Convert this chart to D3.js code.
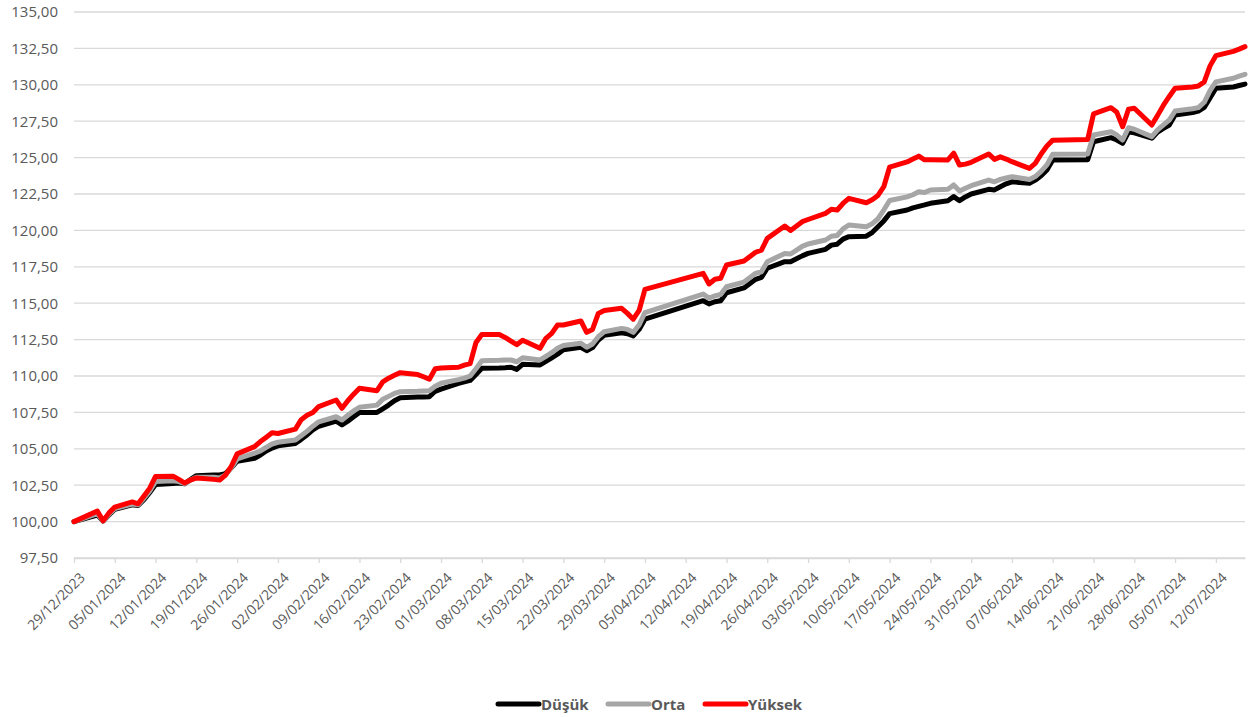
<!DOCTYPE html>
<html><head><meta charset="utf-8">
<script src="https://cdn.jsdelivr.net/npm/d3@7"></script>
<style>
body{margin:0;background:#fff}
svg{display:block}
text{font-family:"Open Sans",sans-serif}
</style>
</head><body>
<svg id="chart" width="1259" height="717"></svg>
<script>
const dates = [
"2023-12-29","2024-01-02","2024-01-03","2024-01-04","2024-01-05",
"2024-01-08","2024-01-09","2024-01-10","2024-01-11","2024-01-12",
"2024-01-15","2024-01-16","2024-01-17","2024-01-18","2024-01-19",
"2024-01-22","2024-01-23","2024-01-24","2024-01-25","2024-01-26",
"2024-01-29","2024-01-30","2024-01-31","2024-02-01","2024-02-02",
"2024-02-05","2024-02-06","2024-02-07","2024-02-08","2024-02-09",
"2024-02-12","2024-02-13","2024-02-14","2024-02-15","2024-02-16",
"2024-02-19","2024-02-20","2024-02-21","2024-02-22","2024-02-23",
"2024-02-26","2024-02-27","2024-02-28","2024-02-29","2024-03-01",
"2024-03-04","2024-03-05","2024-03-06","2024-03-07","2024-03-08",
"2024-03-11","2024-03-12","2024-03-13","2024-03-14","2024-03-15",
"2024-03-18","2024-03-19","2024-03-20","2024-03-21","2024-03-22",
"2024-03-25","2024-03-26","2024-03-27","2024-03-28","2024-03-29",
"2024-04-01","2024-04-02","2024-04-03","2024-04-04","2024-04-05",
"2024-04-15","2024-04-16","2024-04-17","2024-04-18","2024-04-19",
"2024-04-22","2024-04-24","2024-04-25","2024-04-26",
"2024-04-29","2024-04-30","2024-05-02","2024-05-03",
"2024-05-06","2024-05-07","2024-05-08","2024-05-09","2024-05-10",
"2024-05-13","2024-05-14","2024-05-15","2024-05-16","2024-05-17",
"2024-05-20","2024-05-21","2024-05-22","2024-05-23","2024-05-24",
"2024-05-27","2024-05-28","2024-05-29","2024-05-30","2024-05-31",
"2024-06-03","2024-06-04","2024-06-05","2024-06-06","2024-06-07",
"2024-06-10","2024-06-11","2024-06-12","2024-06-13","2024-06-14",
"2024-06-20","2024-06-21",
"2024-06-24","2024-06-25","2024-06-26","2024-06-27","2024-06-28",
"2024-07-01","2024-07-02","2024-07-03","2024-07-04","2024-07-05",
"2024-07-08","2024-07-09","2024-07-10","2024-07-11","2024-07-12",
"2024-07-15","2024-07-16","2024-07-17"
];
const yuksek = [
100.00,100.72,100.05,100.60,101.00,
101.35,101.22,101.75,102.30,103.10,
103.12,102.90,102.65,102.85,103.00,
102.90,102.85,103.20,103.80,104.65,
105.15,105.50,105.80,106.10,106.05,
106.35,107.00,107.30,107.50,107.90,
108.35,107.78,108.30,108.75,109.16,
108.99,109.60,109.85,110.05,110.23,
110.10,109.95,109.78,110.50,110.55,
110.60,110.75,110.85,112.30,112.85,
112.85,112.65,112.40,112.15,112.45,
111.90,112.59,112.93,113.50,113.50,
113.78,113.00,113.20,114.30,114.50,
114.65,114.30,113.90,114.50,115.95,
117.05,116.32,116.64,116.71,117.62,
117.90,118.50,118.65,119.45,
120.30,120.00,120.60,120.75,
121.17,121.45,121.40,121.85,122.20,
121.90,122.10,122.40,123.00,124.35,
124.70,124.90,125.10,124.85,124.85,
124.84,125.30,124.49,124.55,124.68,
125.25,124.88,125.05,124.90,124.72,
124.26,124.60,125.25,125.80,126.20,
126.25,128.00,
128.43,128.11,127.12,128.32,128.39,
127.24,127.90,128.60,129.20,129.76,
129.85,129.92,130.20,131.30,132.00,
132.30,132.45,132.62
];
const orta = [
100.00,100.55,100.05,100.50,100.90,
101.20,101.15,101.60,102.10,102.75,
102.80,102.75,102.60,102.85,103.05,
103.05,103.00,103.20,103.70,104.30,
104.70,104.85,105.10,105.33,105.45,
105.60,105.90,106.20,106.55,106.85,
107.20,106.98,107.30,107.60,107.85,
108.00,108.40,108.60,108.80,108.92,
108.95,108.97,108.99,109.30,109.50,
109.75,109.85,110.00,110.50,111.05,
111.08,111.10,111.10,110.98,111.25,
111.10,111.35,111.60,111.90,112.10,
112.25,111.97,112.20,112.70,113.04,
113.27,113.20,113.00,113.50,114.35,
115.63,115.34,115.50,115.60,116.13,
116.45,117.05,117.16,117.85,
118.42,118.38,118.90,119.07,
119.34,119.60,119.65,120.10,120.37,
120.25,120.45,120.80,121.40,122.05,
122.30,122.45,122.66,122.60,122.78,
122.82,123.12,122.71,122.90,123.07,
123.46,123.34,123.50,123.60,123.69,
123.50,123.70,124.05,124.50,125.23,
125.25,126.55,
126.78,126.55,126.21,127.05,126.95,
126.44,126.90,127.25,127.58,128.20,
128.35,128.43,128.80,129.60,130.20,
130.45,130.60,130.72
];
const dusuk = [
100.00,100.45,100.05,100.45,100.85,
101.15,101.10,101.50,102.00,102.55,
102.62,102.65,102.60,102.90,103.15,
103.20,103.20,103.30,103.70,104.15,
104.35,104.57,104.85,105.05,105.20,
105.37,105.65,105.95,106.30,106.55,
106.90,106.64,106.90,107.20,107.50,
107.50,107.75,108.00,108.30,108.50,
108.55,108.55,108.58,108.95,109.10,
109.50,109.60,109.70,110.10,110.53,
110.55,110.57,110.60,110.45,110.80,
110.76,111.00,111.25,111.50,111.80,
111.97,111.74,111.95,112.47,112.80,
112.97,112.90,112.75,113.20,113.90,
115.17,114.95,115.10,115.17,115.72,
116.05,116.64,116.78,117.40,
117.85,117.85,118.25,118.42,
118.70,118.99,119.05,119.40,119.57,
119.60,119.85,120.25,120.65,121.15,
121.40,121.55,121.65,121.75,121.86,
122.04,122.32,122.04,122.30,122.50,
122.82,122.78,123.00,123.20,123.34,
123.23,123.45,123.75,124.15,124.84,
124.86,126.09,
126.37,126.21,125.98,126.75,126.70,
126.33,126.75,127.00,127.24,127.93,
128.10,128.20,128.45,129.10,129.76,
129.85,129.95,130.05
];
const seriesNames = ["Düşük", "Orta", "Yüksek"];
const seriesColors = ["#000000", "#A6A6A6", "#FF0000"];
const yTicks = [97.5,100,102.5,105,107.5,110,112.5,115,117.5,120,122.5,125,127.5,130,132.5,135];
const xTickLabels = ["29/12/2023","05/01/2024","12/01/2024","19/01/2024","26/01/2024",
"02/02/2024","09/02/2024","16/02/2024","23/02/2024","01/03/2024","08/03/2024",
"15/03/2024","22/03/2024","29/03/2024","05/04/2024","12/04/2024","19/04/2024",
"26/04/2024","03/05/2024","10/05/2024","17/05/2024","24/05/2024","31/05/2024",
"07/06/2024","14/06/2024","21/06/2024","28/06/2024","05/07/2024","12/07/2024"];

const parseISO = d3.utcParse("%Y-%m-%d");
const parseTick = d3.utcParse("%d/%m/%Y");
const dateObjs = dates.map(parseISO);
const allSeries = [dusuk, orta, yuksek];

const L = 74, R = 1245, T = 12, B = 558;
const x = d3.scaleUtc().domain([dateObjs[0], dateObjs[dateObjs.length-1]]).range([L, R]);
const y = d3.scaleLinear().domain([97.5, 135]).range([B, T]);

const locale = d3.formatLocale({decimal: ",", thousands: ".", grouping: [3], currency: ["", ""]});
const fmt = locale.format(".2f");

const svg = d3.select("#chart");
const gridColor = "#D9D9D9";
const textColor = "#595959";

svg.append("g").selectAll("line").data(yTicks).join("line")
  .attr("x1", L).attr("x2", R)
  .attr("y1", d => y(d)).attr("y2", d => y(d))
  .attr("stroke", gridColor).attr("stroke-width", 1.3);

const yAxis = d3.axisLeft(y).tickValues(yTicks).tickFormat(fmt).tickSize(0).tickPadding(16);
const gy = svg.append("g").attr("transform", `translate(${L},0)`).call(yAxis);
gy.select(".domain").remove();
gy.selectAll("text").attr("fill", textColor).style("font-size", "15px").style("font-family", '"Open Sans",sans-serif');

const xTicks = xTickLabels.map(parseTick);
const xAxis = d3.axisBottom(x).tickValues(xTicks).tickFormat((d,i) => xTickLabels[i]).tickSize(5).tickSizeOuter(0);
const gx = svg.append("g").attr("transform", `translate(0,${B})`).call(xAxis);
gx.select(".domain").attr("stroke", gridColor).attr("stroke-width", 1.3);
gx.selectAll(".tick line").attr("stroke", gridColor).attr("stroke-width", 1.3);
gx.selectAll(".tick text")
  .attr("fill", textColor)
  .style("font-size", "14px").style("font-family", '"Open Sans",sans-serif')
  .attr("text-anchor", "end")
  .attr("dy", "0.35em")
  .attr("y", 0)
  .attr("transform", "translate(8,17) rotate(-45)");

const line = d3.line().x((d,i) => x(dateObjs[i])).y(d => y(d));
allSeries.forEach((s, k) => {
  svg.append("path").datum(s)
    .attr("d", line)
    .attr("fill", "none")
    .attr("stroke", seriesColors[k])
    .attr("stroke-width", 5)
    .attr("stroke-linejoin", "round")
    .attr("stroke-linecap", "round");
});

const legendX = [498, 608, 705];
const lg = svg.append("g");
seriesNames.forEach((n, k) => {
  lg.append("line").attr("x1", legendX[k]).attr("x2", legendX[k] + 41)
    .attr("y1", 704).attr("y2", 704)
    .attr("stroke", seriesColors[k]).attr("stroke-width", 5).attr("stroke-linecap", "round");
  lg.append("text").attr("x", legendX[k] + 43).attr("y", 709.5)
    .attr("fill", textColor).style("font-size", "15px").style("font-weight", "bold")
    .text(n);
});
</script>
</body></html>
